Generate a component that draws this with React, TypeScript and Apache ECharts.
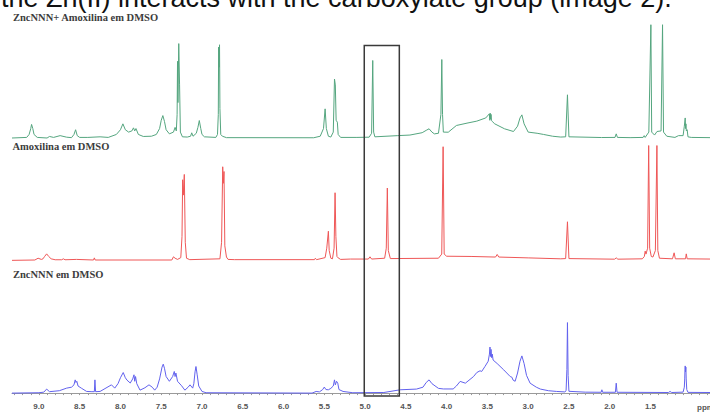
import React, { useEffect, useRef } from "react";
import * as echarts from "echarts";

// [ppm, intensity] points (descending ppm)
const GREEN_SPECTRUM: [number, number][] = [
  [9.33, 0], [9.15, 0.5], [9.12, 3], [9.1, 8], [9.09, 11.5], [9.075, 8], [9.06, 3], [9.02, 0.5],
  [8.9, 0], [8.87, 1.3], [8.82, 0.5], [8.74, 2], [8.66, 0.7], [8.6, 0.3],
  [8.57, 3], [8.55, 7], [8.53, 2], [8.5, 0.5], [8.4, 0.5], [8.25, 1], [8.15, 0.5],
  [8.05, 3], [8.0, 7], [7.97, 12], [7.94, 7], [7.9, 5], [7.86, 6], [7.84, 8.6], [7.825, 6], [7.81, 8], [7.78, 3],
  [7.72, 1.3], [7.62, 1.5], [7.56, 3], [7.52, 8], [7.5, 15], [7.48, 19], [7.46, 14], [7.44, 7], [7.4, 3.5],
  [7.35, 5], [7.33, 9], [7.315, 6], [7.305, 20], [7.3, 65], [7.295, 30], [7.285, 80], [7.275, 45], [7.265, 5],
  [7.24, 1], [7.18, 0.8], [7.14, 1.5], [7.126, 4.4], [7.11, 1.5],
  [7.07, 4], [7.05, 9], [7.033, 14.8], [7.015, 8], [7.0, 3], [6.97, 1],
  [6.83, 0.5], [6.81, 3], [6.8, 20], [6.796, 77], [6.79, 60], [6.785, 79], [6.78, 25], [6.77, 3], [6.75, 1.5], [6.7, 0.3],
  [5.63, 0.2], [5.55, 1.5], [5.51, 8], [5.49, 24.7], [5.475, 8], [5.45, 1.5], [5.42, 0.8],
  [5.39, 5], [5.375, 50], [5.365, 45], [5.355, 15], [5.34, 13.4], [5.33, 3], [5.3, 0.5],
  [5.1, 0.5], [4.95, 0.7], [4.92, 4], [4.906, 65.7], [4.895, 5], [4.88, 1],
  [4.6, 2], [4.45, 2.5], [4.3, 4.5], [4.25, 6.5], [4.215, 7.8], [4.18, 5], [4.15, 3.5], [4.1, 4],
  [4.07, 20], [4.059, 66.5], [4.05, 20], [4.04, 5],
  [3.98, 4.9], [3.88, 10.6], [3.75, 12.6], [3.63, 14.3], [3.52, 17],
  [3.476, 20.5], [3.47, 15], [3.465, 21], [3.46, 16], [3.455, 20], [3.45, 15], [3.44, 14],
  [3.41, 12], [3.29, 7.8], [3.18, 5.5], [3.13, 10], [3.1, 17], [3.077, 19.6], [3.05, 12], [3.0, 5],
  [2.89, 4], [2.81, 3], [2.7, 1.5], [2.6, 0.8],
  [2.54, 1], [2.518, 36.6], [2.5, 1], [2.1, 0.4], [1.935, 0.5], [1.92, 3.5], [1.905, 0.5],
  [1.75, 0.3], [1.59, 0.5], [1.577, 2], [1.565, 0.5], [1.52, 5], [1.495, 96], [1.485, 5],
  [1.45, 2.5], [1.42, 5.5], [1.37, 6], [1.352, 96], [1.34, 5], [1.3, 1.5], [1.2, 0.5],
  [1.156, 2], [1.1, 2], [1.085, 10], [1.074, 17], [1.07, 8], [1.065, 12], [1.06, 6], [1.05, 7], [1.04, 1],
  [1.0, 0.5], [0.77, 0.3],
];

const RED_SPECTRUM: [number, number][] = [
  [9.33, -0.3], [9.05, 0], [9.01, 1.5], [8.97, 0.5],
  [8.95, 1], [8.93, 3], [8.905, 5.2], [8.88, 3], [8.85, 1], [8.8, 0.2],
  [8.72, 0.2], [8.7, 1], [8.68, 0.2], [8.54, 0.5], [8.33, 0], [8.32, 1.8], [8.31, 0],
  [7.37, 0], [7.35, 2.7], [7.33, 1.5], [7.3, 0.5],
  [7.26, 2], [7.245, 20], [7.237, 68], [7.229, 55], [7.217, 72.5], [7.205, 15], [7.19, 1.5], [7.15, 0.3],
  [6.78, 1], [6.76, 15], [6.746, 79], [6.738, 65], [6.73, 75], [6.72, 12], [6.7, 2.5], [6.68, 0.5], [6.6, 0.3],
  [5.62, 0.3], [5.61, 1.5], [5.595, 0.3],
  [5.49, 2], [5.47, 10], [5.45, 24.4], [5.44, 8], [5.42, 1.5], [5.4, 1],
  [5.38, 10], [5.368, 57], [5.358, 20], [5.345, 3], [5.33, 1.8], [5.3, 0.5],
  [5.18, 0.8], [4.96, 0.8], [4.94, 2.7], [4.92, 0.8],
  [4.76, 1.5], [4.74, 10], [4.727, 61], [4.715, 8], [4.69, 1.2],
  [4.1, 1.5], [4.06, 5], [4.043, 96], [4.03, 5], [4.0, 3.2], [3.7, 3],
  [3.4, 2.5], [3.38, 4.7], [3.36, 2.5], [3.0, 1.8], [2.6, 1],
  [2.54, 1.2], [2.518, 32.4], [2.5, 1.2],
  [1.94, 0.7], [1.92, 1.8], [1.9, 0.7],
  [1.6, 1], [1.575, 3], [1.565, 7.5], [1.555, 5],
  [1.535, 10], [1.522, 97], [1.51, 10], [1.49, 3], [1.47, 2.5], [1.44, 8], [1.421, 97], [1.41, 8], [1.39, 1.5],
  [1.23, 1], [1.21, 6.1], [1.195, 1], [1.07, 1], [1.061, 5.2], [1.05, 1], [0.77, 0.8],
];

const BLUE_SPECTRUM: [number, number][] = [
  [9.33, 0], [9.0, 0.3], [8.94, 0.8], [8.905, 3.4], [8.87, 1.2],
  [8.75, 2], [8.66, 4.2], [8.6, 5], [8.57, 7], [8.555, 11.2], [8.545, 9], [8.535, 10], [8.52, 6],
  [8.48, 4.2], [8.415, 1.4], [8.35, 1.2], [8.32, 1.2], [8.313, 11.2], [8.305, 1.2],
  [8.25, 1.4], [8.11, 7], [8.07, 4.2], [8.03, 8], [8.0, 13], [7.966, 17.4], [7.94, 13], [7.92, 11], [7.88, 8.5],
  [7.85, 12], [7.834, 15.5], [7.825, 10], [7.815, 14], [7.8, 8],
  [7.76, 2.5], [7.7, 4.5], [7.65, 7], [7.61, 5], [7.58, 2.5], [7.55, 5],
  [7.52, 12], [7.49, 22], [7.475, 24.5], [7.46, 21], [7.44, 14],
  [7.4, 10], [7.36, 14], [7.34, 18.3], [7.33, 14], [7.32, 17], [7.3, 10],
  [7.25, 6.2], [7.21, 2.5], [7.17, 5], [7.147, 7], [7.114, 4.2],
  [7.1, 8], [7.085, 18], [7.074, 22.5], [7.06, 16], [7.04, 6], [7.0, 1.4], [6.95, 0.3],
  [5.65, 0], [5.6, 1.4], [5.56, 1], [5.52, 3], [5.5, 5.1], [5.48, 3], [5.45, 2.8], [5.42, 4],
  [5.39, 6], [5.375, 11.2], [5.365, 7], [5.35, 10], [5.335, 8.4], [5.32, 3], [5.27, 1.4],
  [5.15, 0.3], [4.77, 0.5], [4.57, 2.8], [4.37, 3.4],
  [4.29, 5], [4.25, 9], [4.215, 11.2], [4.18, 8], [4.1, 4], [4.04, 3.5], [3.92, 3.5],
  [3.88, 6], [3.834, 9.9], [3.77, 8.4], [3.67, 14], [3.63, 17.4], [3.59, 18.9], [3.57, 18.3], [3.53, 22.5],
  [3.49, 27], [3.475, 33], [3.468, 39], [3.462, 31], [3.455, 37], [3.448, 30], [3.44, 33], [3.43, 28],
  [3.38, 25], [3.3, 19.7], [3.22, 14], [3.2, 13.5], [3.185, 11], [3.16, 10],
  [3.13, 17], [3.1, 27], [3.077, 31.5], [3.05, 25], [3.02, 15],
  [2.976, 8.4], [2.9, 5], [2.85, 3.4], [2.75, 2], [2.65, 1.4], [2.55, 1],
  [2.535, 2], [2.525, 20], [2.518, 59.7], [2.51, 15], [2.5, 1.5],
  [2.3, 0.8], [2.105, 0.7], [2.096, 2.8], [2.087, 0.7], [1.93, 0.7], [1.92, 8.4], [1.91, 0.7],
  [1.28, 0.5], [1.26, 1.4], [1.24, 0.5],
  [1.1, 0.8], [1.085, 5], [1.08, 12], [1.077, 20], [1.074, 23], [1.07, 18], [1.066, 22], [1.062, 12], [1.055, 3], [1.04, 0.6],
  [0.77, 0.5],
];

const SPECTRUM_LABELS = ["ZncNNN+ Amoxilina em DMSO", "Amoxilina em DMSO", "ZncNNN em DMSO"];
const TICK_LABELS = [9.0, 8.5, 8.0, 7.5, 7.0, 6.5, 6.0, 5.5, 5.0, 4.5, 4.0, 3.5, 3.0, 2.5, 2.0, 1.5];
const MINOR_TICKS = [
  9.3, 9.2, 9.1, 9.0, 8.9, 8.8, 8.7, 8.6, 8.5, 8.4, 8.3, 8.2, 8.1, 8.0, 7.9, 7.8, 7.7, 7.6, 7.5, 7.4, 7.3, 7.2, 7.1,
  7.0, 6.9, 6.8, 6.7, 6.6, 6.5, 6.4, 6.3, 6.2, 6.1, 6.0, 5.9, 5.8, 5.7, 5.6, 5.5, 5.4, 5.3, 5.2, 5.1, 5.0, 4.9,
  4.8, 4.7, 4.6, 4.5, 4.4, 4.3, 4.2, 4.1, 4.0, 3.9, 3.8, 3.7, 3.6, 3.5, 3.4, 3.3, 3.2, 3.1, 3.0, 2.9, 2.8, 2.7,
  2.6, 2.5, 2.4, 2.3, 2.2, 2.1, 2.0, 1.9, 1.8, 1.7, 1.6, 1.5, 1.4, 1.3, 1.2, 1.1, 1.0, 0.9, 0.8,
];
const HIGHLIGHT_PPM = [5.01, 4.58];
const TITLE_TEXT = "the Zn(II) interacts with the carboxylate group (image 2).";

const X_MIN = 0.77;
const X_MAX = 9.33;

export default function App() {
  const ref = useRef<HTMLDivElement>(null);
  useEffect(() => {
    if (!ref.current) return;
    const chart = echarts.init(ref.current, null, { renderer: "svg" });
    const grids = [
      { left: 12, right: 0, top: 20, height: 118 },
      { left: 12, right: 0, top: 142, height: 118 },
      { left: 12, right: 0, top: 275, bottom: 13 },
    ];
    const mkX = (i: number) => ({
      type: "value",
      gridIndex: i,
      inverse: true,
      min: X_MIN,
      max: X_MAX,
      show: i === 2,
      splitLine: { show: false },
      axisLine: { show: i === 2, lineStyle: { color: "#9a9a9a", width: 1 } },
      axisTick: {
        show: i === 2,
        customValues: MINOR_TICKS,
        length: 2,
        lineStyle: { color: "#9a9a9a" },
      },
      axisLabel: {
        show: i === 2,
        customValues: TICK_LABELS,
        formatter: (v: number) => v.toFixed(1),
        fontSize: 8,
        fontWeight: "bold",
        color: "#555",
        fontFamily: "Liberation Sans, Arial, sans-serif",
        margin: 3,
      },
    });
    const mkY = (i: number) => ({
      type: "value",
      gridIndex: i,
      min: i === 2 ? -5 : 0,
      max: 100,
      show: false,
      splitLine: { show: false },
    });
    const colors = ["#55a67f", "#ef5757", "#6262ee"];
    const data = [GREEN_SPECTRUM, RED_SPECTRUM, BLUE_SPECTRUM];
    chart.setOption({
      animation: false,
      backgroundColor: "#ffffff",
      grid: grids,
      xAxis: [0, 1, 2].map(mkX),
      yAxis: [0, 1, 2].map(mkY),
      series: data.map((d, i) => ({
        type: "line",
        xAxisIndex: i,
        yAxisIndex: i,
        data: d,
        showSymbol: false,
        symbol: "none",
        clip: false,
        lineStyle: { color: colors[i], width: 1 },
      })),
    });
    const bx0 = chart.convertToPixel({ xAxisIndex: 2 }, HIGHLIGHT_PPM[0]) as number;
    const bx1 = chart.convertToPixel({ xAxisIndex: 2 }, HIGHLIGHT_PPM[1]) as number;
    const labelFont = {
      fontFamily: "Liberation Serif, Times New Roman, serif",
      fontWeight: "bold",
      fontSize: 10.5,
      fill: "#3c3c3c",
      verticalAlign: "middle",
    };
    chart.setOption({
      graphic: [
        {
          type: "text",
          left: undefined,
          x: 1,
          y: -2.5,
          style: {
            text: TITLE_TEXT,
            fontFamily: "Liberation Sans, Arial, sans-serif",
            fontSize: 27,
            fill: "#111",
            verticalAlign: "middle",
          },
        },
        { type: "text", x: 13, y: 17, style: { text: SPECTRUM_LABELS[0], ...labelFont } },
        { type: "text", x: 12.5, y: 146.7, style: { text: SPECTRUM_LABELS[1], ...labelFont } },
        { type: "text", x: 13, y: 274, style: { text: SPECTRUM_LABELS[2], ...labelFont } },
        {
          type: "text",
          x: 697,
          y: 407,
          style: {
            text: "ppm",
            fontFamily: "Liberation Sans, Arial, sans-serif",
            fontWeight: "bold",
            fontSize: 8,
            fill: "#555",
            verticalAlign: "middle",
          },
        },
        {
          type: "rect",
          shape: { x: bx0, y: 45.5, width: bx1 - bx0, height: 350.5 },
          style: { fill: "none", stroke: "#3a3a3a", lineWidth: 1.5 },
          z: 100,
        },
      ],
    });
    return () => chart.dispose();
  }, []);
  return (
    <div
      ref={ref}
      style={{ position: "fixed", left: 0, top: 0, width: 710, height: 412, background: "#fff" }}
    />
  );
}
